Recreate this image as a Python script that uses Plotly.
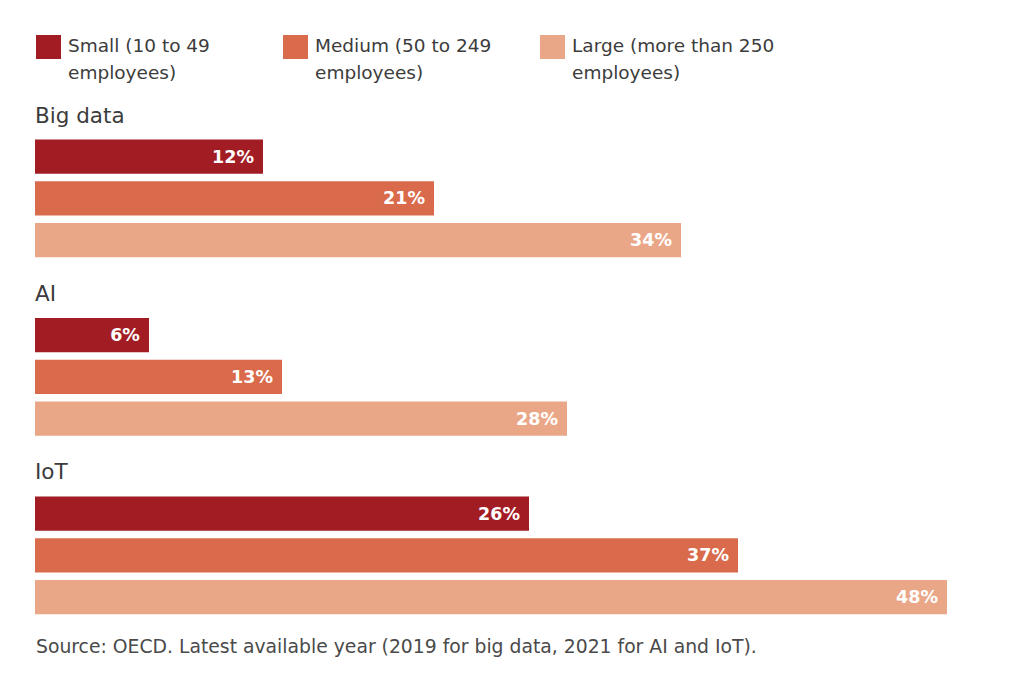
import plotly.graph_objects as go

# ---- data ----
categories = ["Big data", "AI", "IoT"]
series_names = ["Small (10 to 49<br>employees)",
                "Medium (50 to 249<br>employees)",
                "Large (more than 250<br>employees)"]
small = [12, 6, 26]
medium = [21, 13, 37]
large = [34, 28, 48]
source_note = "Source: OECD. Latest available year (2019 for big data, 2021 for AI and IoT)."

# ---- style ----
colors = ["#a21c24", "#d96b4c", "#eaa788"]
FONT = "DejaVu Sans"
TEXT_COLOR = "#3c3c3c"
GROUP_STEP = 4.28     # rows between group starts (title row + 3 bars + gap)
BAR_WIDTH = 0.82

W, H = 1011, 680
L, R, T, B = 35, 11, 100, 60
PX_PER_UNIT_X = 19.0
ROW_PX = 41.7
TITLE0_PX = 115

plot_w = W - L - R
plot_h = H - T - B
x_range = [0, plot_w / PX_PER_UNIT_X]
y_top = -(TITLE0_PX - T) / ROW_PX
y_bottom = y_top + plot_h / ROW_PX

series_values = [small, medium, large]

fig = go.Figure()
for s, (name, vals, col) in enumerate(zip(series_names, series_values, colors)):
    ys = [g * GROUP_STEP + s + 1 for g in range(len(categories))]
    fig.add_trace(go.Bar(
        x=vals, y=ys, orientation="h", name=name,
        marker=dict(color=col, line=dict(width=0)),
        width=BAR_WIDTH,
        text=[f"{v}%\u00a0" for v in vals],
        textposition="inside", insidetextanchor="end",
        textfont=dict(color="white", size=17.5, family=FONT, weight="bold"),
        showlegend=False, hoverinfo="skip",
    ))

annotations = []
# group titles
for g, cat in enumerate(categories):
    annotations.append(dict(
        x=0, y=g * GROUP_STEP, xref="x", yref="y", text=cat,
        xanchor="left", yanchor="middle", showarrow=False,
        font=dict(family=FONT, size=21.5, color=TEXT_COLOR), xshift=-2))

# manual legend
legend_x_px = [36, 283, 540]
shapes = []
for i, (name, col) in enumerate(zip(series_names, colors)):
    shapes.append(dict(type="rect", xref="paper", yref="paper",
                       x0=(legend_x_px[i] - L) / plot_w,
                       x1=(legend_x_px[i] + 25 - L) / plot_w,
                       y0=(H - B - 59) / plot_h,
                       y1=(H - B - 35) / plot_h,
                       fillcolor=col, line=dict(width=0)))
    for j, line in enumerate(name.split("<br>")):
        annotations.append(dict(
            xref="paper", yref="paper",
            x=(legend_x_px[i] + 30 - L) / plot_w,
            y=(H - B - (46 + 27 * j)) / plot_h,
            text=line, xanchor="left", yanchor="middle", showarrow=False,
            font=dict(family=FONT, size=18.5, color=TEXT_COLOR)))

# source note
annotations.append(dict(
    xref="paper", yref="paper", x=0, y=(H - B - 646) / plot_h,
    text=source_note, xanchor="left", yanchor="middle", showarrow=False,
    font=dict(family=FONT, size=18.8, color="#4a4a4a"), xshift=-1))

fig.update_layout(
    width=W, height=H,
    margin=dict(l=L, r=R, t=T, b=B, pad=0),
    paper_bgcolor="white", plot_bgcolor="white",
    barmode="overlay",
    xaxis=dict(range=x_range, visible=False, showgrid=False, zeroline=False, fixedrange=True),
    yaxis=dict(range=[y_bottom, y_top], visible=False, showgrid=False, zeroline=False, fixedrange=True),
    annotations=annotations, shapes=shapes,
    uniformtext=dict(minsize=10, mode="show"),
)

fig.write_html("out.html")
